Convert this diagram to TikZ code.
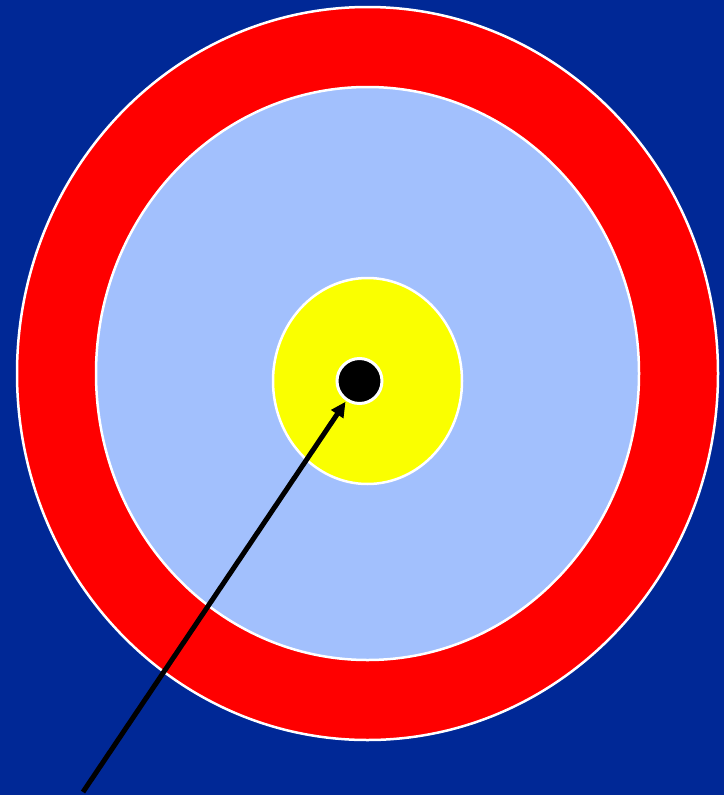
\documentclass[tikz,border=0pt]{standalone}
\usetikzlibrary{arrows.meta}
\definecolor{bgblue}{HTML}{002896}
\definecolor{lightblue}{HTML}{A2C0FD}
\definecolor{ringred}{HTML}{FF0000}
\definecolor{eyeyellow}{HTML}{FAFF00}
\tikzset{
  ring/.style={draw=white, line width=2.5pt},
  pointer/.style={draw=black, line width=5pt, -{Triangle[length=15pt,width=14pt]}, shorten >=1pt}
}
\begin{document}
\begin{tikzpicture}[x=1pt,y=-1pt]
\fill[bgblue] (0,0) rectangle (724,795);
\useasboundingbox (0,0) rectangle (724,795);
\path[ring, fill=ringred] (367.5,373.5) ellipse [x radius=350.5, y radius=366.5];
\path[ring, fill=lightblue] (367.5,373.5) ellipse [x radius=271.5, y radius=286.5];
\path[ring, fill=eyeyellow] (367.5,381) ellipse [x radius=94.5, y radius=103];
\node[ring, line width=3pt, fill=black, circle, minimum size=45pt, inner sep=0pt] (dot) at (359.5,381) {};
\coordinate (start) at (83,792);
\draw[pointer] (start) -- (dot);
\end{tikzpicture}
\end{document}
